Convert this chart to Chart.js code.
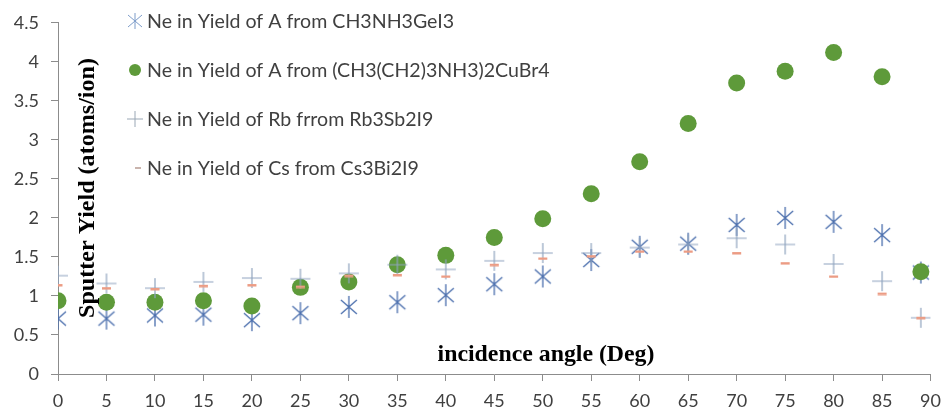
<!DOCTYPE html>
<html><head><meta charset="utf-8">
<script src="https://cdn.jsdelivr.net/npm/chart.js@4.4.1/dist/chart.umd.min.js"></script>
<style>html,body{margin:0;padding:0;background:#fff;}#wrap{width:950px;height:414px;position:relative;}</style>
</head><body><div id="wrap"><canvas id="c" width="950" height="414"></canvas></div>
<script>
const angles = [0,5,10,15,20,25,30,35,40,45,50,55,60,65,70,75,80,85,89];
const seriesNames = [
  'Ne in Yield of A from CH3NH3GeI3',
  'Ne in Yield of A from (CH3(CH2)3NH3)2CuBr4',
  'Ne in Yield of Rb frrom Rb3Sb2I9',
  'Ne in Yield of Cs from Cs3Bi2I9'
];
const yieldGeI3  = [0.71,0.71,0.75,0.76,0.69,0.78,0.86,0.92,1.01,1.15,1.25,1.46,1.63,1.67,1.91,2.00,1.95,1.78,1.30];
const yieldCuBr4 = [0.94,0.92,0.92,0.94,0.87,1.11,1.18,1.40,1.52,1.75,1.99,2.31,2.72,3.21,3.73,3.88,4.12,3.81,1.31];
const yieldRb    = [1.26,1.16,1.10,1.18,1.23,1.22,1.29,1.40,1.34,1.45,1.55,1.55,1.62,1.66,1.74,1.66,1.41,1.19,0.72];
const yieldCs    = [1.14,1.10,1.09,1.13,1.14,1.12,1.26,1.27,1.25,1.40,1.48,1.51,1.57,1.57,1.55,1.42,1.25,1.03,0.72];
const yTicks = [0,0.5,1,1.5,2,2.5,3,3.5,4,4.5];
const xTicks = [0,5,10,15,20,25,30,35,40,45,50,55,60,65,70,75,80,85,90];

function mk(w,h,draw){const c=document.createElement('canvas');c.width=w;c.height=h;const g=c.getContext('2d');draw(g);return c;}
const asterisk = mk(20,24,g=>{g.strokeStyle='#4a6ead';g.lineWidth=1.3;g.beginPath();
  g.moveTo(2,5);g.lineTo(18,19);g.moveTo(18,5);g.lineTo(2,19);g.moveTo(10,1);g.lineTo(10,23);g.stroke();});
const plus = mk(22,22,g=>{g.strokeStyle='#8fa4bf';g.lineWidth=1.2;g.beginPath();
  g.moveTo(1,11);g.lineTo(21,11);g.moveTo(11,1);g.lineTo(11,21);g.stroke();});
const dash = mk(11,4,g=>{g.fillStyle='#ec9c84';g.fillRect(1,1,9,2.5);});
const legendAsterisk = mk(18,18,g=>{g.strokeStyle='#7d9cc9';g.lineWidth=1;g.beginPath();
  g.moveTo(2,3);g.lineTo(16,15);g.moveTo(16,3);g.lineTo(2,15);g.moveTo(9,1);g.lineTo(9,17);g.stroke();});
const legendPlus = mk(18,18,g=>{g.strokeStyle='#9aa7b5';g.lineWidth=1;g.beginPath();
  g.moveTo(1,9);g.lineTo(17,9);g.moveTo(9,1);g.lineTo(9,17);g.stroke();});
const legendDash = mk(8,4,g=>{g.fillStyle='#c9b4ad';g.fillRect(1,1,6,2);});

function pts(arr){return angles.map((a,i)=>({x:a,y:arr[i]}));}
const green = '#5e9a3a';

const overlay = {
  id:'overlay',
  afterDraw(chart){
    const ctx=chart.ctx;
    ctx.save();
    const rows=[{y:21,img:legendAsterisk},{y:70,circle:true},{y:119,img:legendPlus},{y:168,img:legendDash}];
    ctx.font='18px Lato';
    const target=403; const w=ctx.measureText(seriesNames[1]).width;
    const fs=18*target/w;
    ctx.font=fs.toFixed(2)+'px Lato';
    ctx.textBaseline='middle';ctx.textAlign='left';
    rows.forEach((r,i)=>{
      const cx=135;
      if(r.circle){ctx.fillStyle=green;ctx.beginPath();ctx.arc(cx,r.y,6,0,Math.PI*2);ctx.fill();}
      else ctx.drawImage(r.img,cx-r.img.width/2+(i===3?3:0),r.y-r.img.height/2);
      ctx.fillStyle='#404040';
      ctx.fillText(seriesNames[i],147,r.y+1);
    });
    const yt='Sputter Yield (atoms/ion)';
    ctx.font='bold 20px "Liberation Serif"';
    let s=20*260/ctx.measureText(yt).width;
    ctx.font='bold '+s.toFixed(2)+'px "Liberation Serif"';
    ctx.fillStyle='#000';
    ctx.translate(88,188);ctx.rotate(-Math.PI/2);ctx.textAlign='center';ctx.textBaseline='middle';
    ctx.fillText(yt,0,0);
    ctx.setTransform(1,0,0,1,0,0);
    const xt='incidence angle (Deg)';
    ctx.font='bold 20px "Liberation Serif"';
    s=20*217/ctx.measureText(xt).width;
    ctx.font='bold '+s.toFixed(2)+'px "Liberation Serif"';
    ctx.textAlign='center';ctx.textBaseline='middle';
    ctx.fillText(xt,546,355);
    ctx.restore();
  }
};

new Chart(document.getElementById('c'),{
  type:'scatter',
  data:{datasets:[
    {label:seriesNames[0],data:pts(yieldGeI3),pointStyle:asterisk,order:4},
    {label:seriesNames[1],data:pts(yieldCuBr4),pointStyle:'circle',pointRadius:8.5,backgroundColor:green,borderColor:green,borderWidth:0,order:3},
    {label:seriesNames[2],data:pts(yieldRb),pointStyle:plus,order:2},
    {label:seriesNames[3],data:pts(yieldCs),pointStyle:dash,order:1}
  ]},
  options:{
    responsive:false,animation:false,
    layout:{padding:{top:20,right:17,left:0,bottom:0}},
    plugins:{legend:{display:false},tooltip:{enabled:false}},
    scales:{
      x:{type:'linear',min:0,max:90,
        afterBuildTicks(sc){sc.ticks=xTicks.map(v=>({value:v}));},
        afterFit(sc){sc.height=40;},
        grid:{drawOnChartArea:false,drawTicks:true,tickLength:7,color:'#8c8c8c'},
        border:{display:true,color:'#8c8c8c',width:1},
        ticks:{font:{family:'Lato',size:18},color:'#404040',padding:9,maxRotation:0,autoSkip:false,callback:v=>String(v)}
      },
      y:{type:'linear',min:0,max:4.5,
        afterBuildTicks(sc){sc.ticks=yTicks.map(v=>({value:v}));},
        afterFit(sc){sc.width=58;},
        grid:{drawOnChartArea:false,drawTicks:true,tickLength:7,color:'#8c8c8c'},
        border:{display:true,color:'#8c8c8c',width:1},
        ticks:{font:{family:'Lato',size:18},color:'#404040',padding:12,callback:v=>String(v)}
      }
    }
  },
  plugins:[overlay]
});
</script></body></html>
